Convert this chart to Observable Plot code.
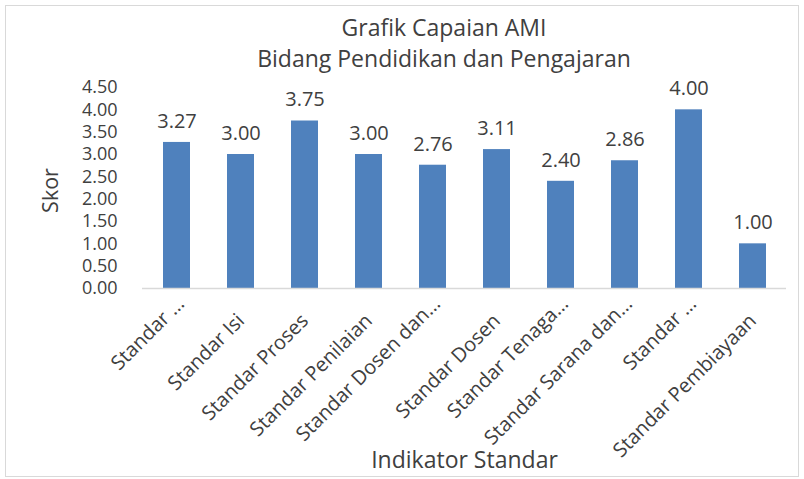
<!DOCTYPE html>
<html><head><meta charset="utf-8">
<script src="https://cdn.jsdelivr.net/npm/d3@7"></script>
<script src="https://cdn.jsdelivr.net/npm/@observablehq/plot@0.6"></script>
<style>
body{margin:0;background:#fff;font-family:"Open Sans",sans-serif;}
#wrap{position:relative;width:804px;height:479px;overflow:hidden;background:#fff}
#frame{position:absolute;left:5px;top:5px;width:794px;height:472px;border:1px solid #d9d9d9;box-sizing:border-box;pointer-events:none}
#title{position:absolute;left:0;top:12px;width:888px;text-align:center;font-size:23px;line-height:31px;color:#404040;}
#chart{position:absolute;left:0;top:70px;}
</style></head>
<body>
<div id="wrap">
  <div id="title">Grafik Capaian AMI<br>Bidang Pendidikan dan Pengajaran</div>
  <div id="chart"></div>
  <div id="frame"></div>
</div>
<script>
const categories = ["Standar …", "Standar Isi", "Standar Proses", "Standar Penilaian", "Standar Dosen dan…", "Standar Dosen", "Standar Tenaga…", "Standar Sarana dan…", "Standar …", "Standar Pembiayaan"];
const scores = [3.27, 3.00, 3.75, 3.00, 2.76, 3.11, 2.40, 2.86, 4.00, 1.00];
const yTicks = [0, 0.5, 1, 1.5, 2, 2.5, 3, 3.5, 4, 4.5];
const yTitle = "Skor";
const xTitle = "Indikator Standar";

const data = categories.map((c, i) => ({i, label: c, score: scores[i]}));
const textColor = "#404040";
// Excel places the truncated (ellipsis) labels a little higher than the full ones
const truncatedTicks = d3.range(categories.length).filter(i => categories[i].endsWith("…"));
const fullTicks = d3.range(categories.length).filter(i => !categories[i].endsWith("…"));

const chart = Plot.plot({
  width: 804,
  height: 409,
  marginLeft: 142,
  marginRight: 18,
  marginTop: 17,
  marginBottom: 191,
  style: {fontFamily: "'Open Sans', sans-serif", color: textColor, background: "transparent"},
  x: {type: "band", domain: d3.range(categories.length), paddingInner: 0.58, paddingOuter: 0.29},
  y: {domain: [0, 4.5]},
  marks: [
    Plot.barY(data, {x: "i", y: "score", fill: "#4F81BD"}),
    Plot.ruleY([0], {stroke: "#d9d9d9", strokeWidth: 1.5}),
    Plot.text(data, {x: "i", y: "score", text: d => d.score.toFixed(2), dy: -21, fontSize: 20, fill: textColor}),
    Plot.axisY({ticks: yTicks, tickFormat: d => d.toFixed(2), tickSize: 0, tickPadding: 25, fontSize: 18, label: null, fill: textColor}),
    Plot.axisX({ticks: fullTicks, tickFormat: i => categories[i], tickRotate: -45, tickSize: 0, tickPadding: 29, dx: 0, fontSize: 20, label: null, fill: textColor}),
    Plot.axisX({ticks: truncatedTicks, tickFormat: i => categories[i], tickRotate: -45, tickSize: 0, tickPadding: 12, dx: 4, fontSize: 20, label: null, fill: textColor}),
    Plot.text([yTitle], {frameAnchor: "left", textAnchor: "middle", lineAnchor: "middle", dx: -91, dy: 2.5, rotate: -90, fontSize: 21.5, fill: textColor}),
    Plot.text([xTitle], {frameAnchor: "bottom", textAnchor: "middle", lineAnchor: "middle", dy: 172, fontSize: 23, fill: textColor})
  ]
});
document.getElementById("chart").appendChild(chart);
</script>
</body></html>
